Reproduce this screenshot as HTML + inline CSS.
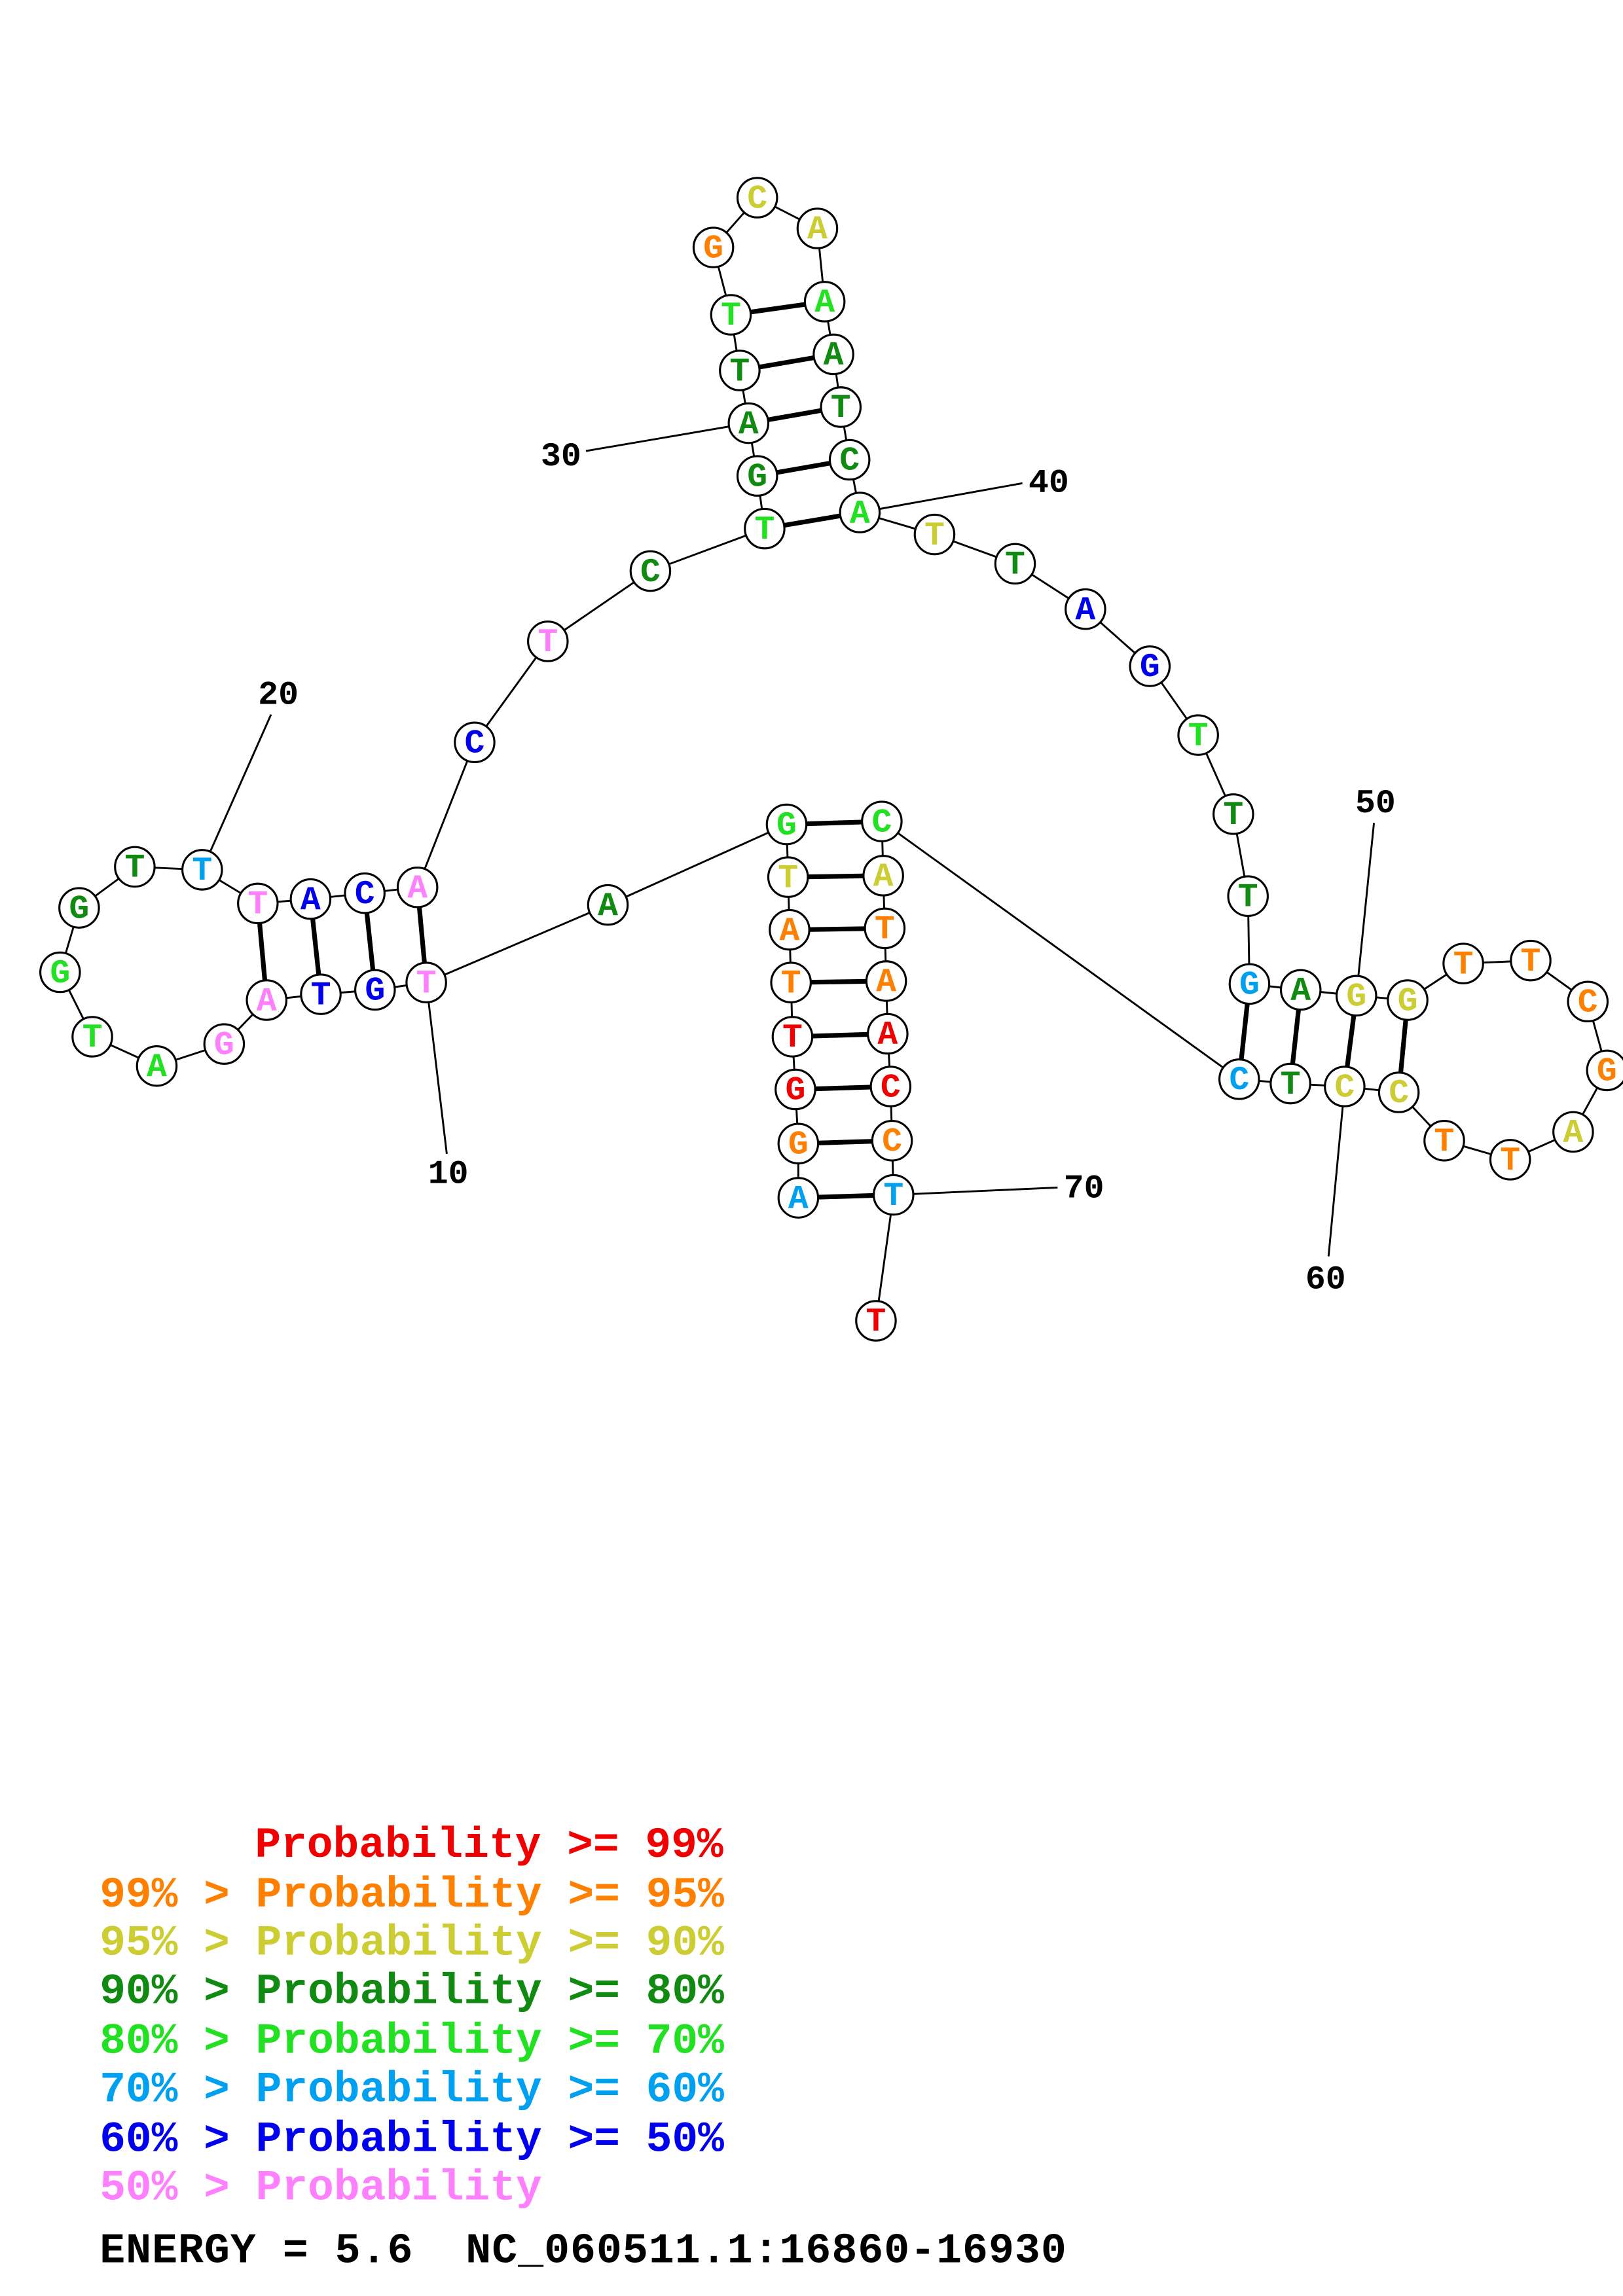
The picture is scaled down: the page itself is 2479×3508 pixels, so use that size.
<!DOCTYPE html>
<html><head><meta charset="utf-8"><style>html,body{margin:0;padding:0;background:#fff}svg{display:block}.pre{white-space:pre}</style></head>
<body>
<svg width="2479" height="3508" viewBox="0 0 1108 1568" xmlns="http://www.w3.org/2000/svg">
<rect width="1108" height="1568" fill="#fff"/>
<g stroke="#000" stroke-width="1.3" fill="none">
<polyline points="545,818 545,781 543,744 541,708 540,671 539,635 538,599 537,563 415,618 291,671 256,676 219,679 182,683 153,713 107,728 63,708 41,664 54,620 92,592 138,594 176,617 212,614 249,610 285,606 324,507 374,438 444,390 522,361 517,325 511,289 505,253 499,215 487,169 517,135 558,156 563,206 569,242 574,278 580,314 587,350 638,365 693,385 741,416 785,455 818,502 842,556 852,612 853,672 888,676 926,680 961,683 999,658 1045,656 1084,684 1097,731 1074,773 1031,792 986,779 955,746 918,742 881,740 846,737 602,561 603,598 604,634 605,670 606,706 608,742 609,779 610,816 598,902"/>
<line x1="400" y1="308" x2="511" y2="289"/>
<line x1="698" y1="330" x2="587" y2="350"/>
<line x1="185" y1="488" x2="138" y2="594"/>
<line x1="305" y1="788" x2="291" y2="671"/>
<line x1="938" y1="562" x2="926" y2="680"/>
<line x1="907" y1="858" x2="918" y2="742"/>
<line x1="722" y1="811" x2="610" y2="816"/>
</g>
<g stroke="#000" stroke-width="3.2">
<line x1="545" y1="818" x2="610" y2="816"/><line x1="545" y1="781" x2="609" y2="779"/><line x1="543" y1="744" x2="608" y2="742"/><line x1="541" y1="708" x2="606" y2="706"/><line x1="540" y1="671" x2="605" y2="670"/><line x1="539" y1="635" x2="604" y2="634"/><line x1="538" y1="599" x2="603" y2="598"/><line x1="537" y1="563" x2="602" y2="561"/>
<line x1="291" y1="671" x2="285" y2="606"/><line x1="256" y1="676" x2="249" y2="610"/><line x1="219" y1="679" x2="212" y2="614"/><line x1="182" y1="683" x2="176" y2="617"/>
<line x1="522" y1="361" x2="587" y2="350"/><line x1="517" y1="325" x2="580" y2="314"/><line x1="511" y1="289" x2="574" y2="278"/><line x1="505" y1="253" x2="569" y2="242"/><line x1="499" y1="215" x2="563" y2="206"/>
<line x1="853" y1="672" x2="846" y2="737"/><line x1="888" y1="676" x2="881" y2="740"/><line x1="926" y1="680" x2="918" y2="742"/><line x1="961" y1="683" x2="955" y2="746"/>
</g>
<g fill="#fff" stroke="#000" stroke-width="1.4">
<circle cx="545" cy="818" r="13.5"/><circle cx="545" cy="781" r="13.5"/><circle cx="543" cy="744" r="13.5"/><circle cx="541" cy="708" r="13.5"/><circle cx="540" cy="671" r="13.5"/><circle cx="539" cy="635" r="13.5"/><circle cx="538" cy="599" r="13.5"/><circle cx="537" cy="563" r="13.5"/><circle cx="415" cy="618" r="13.5"/><circle cx="291" cy="671" r="13.5"/><circle cx="256" cy="676" r="13.5"/><circle cx="219" cy="679" r="13.5"/><circle cx="182" cy="683" r="13.5"/><circle cx="153" cy="713" r="13.5"/><circle cx="107" cy="728" r="13.5"/><circle cx="63" cy="708" r="13.5"/><circle cx="41" cy="664" r="13.5"/><circle cx="54" cy="620" r="13.5"/><circle cx="92" cy="592" r="13.5"/><circle cx="138" cy="594" r="13.5"/><circle cx="176" cy="617" r="13.5"/><circle cx="212" cy="614" r="13.5"/><circle cx="249" cy="610" r="13.5"/><circle cx="285" cy="606" r="13.5"/><circle cx="324" cy="507" r="13.5"/><circle cx="374" cy="438" r="13.5"/><circle cx="444" cy="390" r="13.5"/><circle cx="522" cy="361" r="13.5"/><circle cx="517" cy="325" r="13.5"/><circle cx="511" cy="289" r="13.5"/><circle cx="505" cy="253" r="13.5"/><circle cx="499" cy="215" r="13.5"/><circle cx="487" cy="169" r="13.5"/><circle cx="517" cy="135" r="13.5"/><circle cx="558" cy="156" r="13.5"/><circle cx="563" cy="206" r="13.5"/><circle cx="569" cy="242" r="13.5"/><circle cx="574" cy="278" r="13.5"/><circle cx="580" cy="314" r="13.5"/><circle cx="587" cy="350" r="13.5"/><circle cx="638" cy="365" r="13.5"/><circle cx="693" cy="385" r="13.5"/><circle cx="741" cy="416" r="13.5"/><circle cx="785" cy="455" r="13.5"/><circle cx="818" cy="502" r="13.5"/><circle cx="842" cy="556" r="13.5"/><circle cx="852" cy="612" r="13.5"/><circle cx="853" cy="672" r="13.5"/><circle cx="888" cy="676" r="13.5"/><circle cx="926" cy="680" r="13.5"/><circle cx="961" cy="683" r="13.5"/><circle cx="999" cy="658" r="13.5"/><circle cx="1045" cy="656" r="13.5"/><circle cx="1084" cy="684" r="13.5"/><circle cx="1097" cy="731" r="13.5"/><circle cx="1074" cy="773" r="13.5"/><circle cx="1031" cy="792" r="13.5"/><circle cx="986" cy="779" r="13.5"/><circle cx="955" cy="746" r="13.5"/><circle cx="918" cy="742" r="13.5"/><circle cx="881" cy="740" r="13.5"/><circle cx="846" cy="737" r="13.5"/><circle cx="602" cy="561" r="13.5"/><circle cx="603" cy="598" r="13.5"/><circle cx="604" cy="634" r="13.5"/><circle cx="605" cy="670" r="13.5"/><circle cx="606" cy="706" r="13.5"/><circle cx="608" cy="742" r="13.5"/><circle cx="609" cy="779" r="13.5"/><circle cx="610" cy="816" r="13.5"/><circle cx="598" cy="902" r="13.5"/>
</g>
<g font-family="'Liberation Mono',monospace" font-weight="bold" font-size="23" text-anchor="middle" dominant-baseline="central">
<text x="545" y="819" fill="#00a0f0">A</text><text x="545" y="782" fill="#ff8000">G</text><text x="543" y="745" fill="#f00000">G</text><text x="541" y="709" fill="#f00000">T</text><text x="540" y="672" fill="#ff8000">T</text><text x="539" y="636" fill="#ff8000">A</text><text x="538" y="600" fill="#cccc33">T</text><text x="537" y="564" fill="#22e022">G</text><text x="415" y="619" fill="#108a10">A</text><text x="291" y="672" fill="#ff80ff">T</text><text x="256" y="677" fill="#0000ee">G</text><text x="219" y="680" fill="#0000ee">T</text><text x="182" y="684" fill="#ff80ff">A</text><text x="153" y="714" fill="#ff80ff">G</text><text x="107" y="729" fill="#22e022">A</text><text x="63" y="709" fill="#22e022">T</text><text x="41" y="665" fill="#22e022">G</text><text x="54" y="621" fill="#108a10">G</text><text x="92" y="593" fill="#108a10">T</text><text x="138" y="595" fill="#00a0f0">T</text><text x="176" y="618" fill="#ff80ff">T</text><text x="212" y="615" fill="#0000ee">A</text><text x="249" y="611" fill="#0000ee">C</text><text x="285" y="607" fill="#ff80ff">A</text><text x="324" y="508" fill="#0000ee">C</text><text x="374" y="439" fill="#ff80ff">T</text><text x="444" y="391" fill="#108a10">C</text><text x="522" y="362" fill="#22e022">T</text><text x="517" y="326" fill="#108a10">G</text><text x="511" y="290" fill="#108a10">A</text><text x="505" y="254" fill="#108a10">T</text><text x="499" y="216" fill="#22e022">T</text><text x="487" y="170" fill="#ff8000">G</text><text x="517" y="136" fill="#cccc33">C</text><text x="558" y="157" fill="#cccc33">A</text><text x="563" y="207" fill="#22e022">A</text><text x="569" y="243" fill="#108a10">A</text><text x="574" y="279" fill="#108a10">T</text><text x="580" y="315" fill="#108a10">C</text><text x="587" y="351" fill="#22e022">A</text><text x="638" y="366" fill="#cccc33">T</text><text x="693" y="386" fill="#108a10">T</text><text x="741" y="417" fill="#0000ee">A</text><text x="785" y="456" fill="#0000ee">G</text><text x="818" y="503" fill="#22e022">T</text><text x="842" y="557" fill="#108a10">T</text><text x="852" y="613" fill="#108a10">T</text><text x="853" y="673" fill="#00a0f0">G</text><text x="888" y="677" fill="#108a10">A</text><text x="926" y="681" fill="#cccc33">G</text><text x="961" y="684" fill="#cccc33">G</text><text x="999" y="659" fill="#ff8000">T</text><text x="1045" y="657" fill="#ff8000">T</text><text x="1084" y="685" fill="#ff8000">C</text><text x="1097" y="732" fill="#ff8000">G</text><text x="1074" y="774" fill="#cccc33">A</text><text x="1031" y="793" fill="#ff8000">T</text><text x="986" y="780" fill="#ff8000">T</text><text x="955" y="747" fill="#cccc33">C</text><text x="918" y="743" fill="#cccc33">C</text><text x="881" y="741" fill="#108a10">T</text><text x="846" y="738" fill="#00a0f0">C</text><text x="602" y="562" fill="#22e022">C</text><text x="603" y="599" fill="#cccc33">A</text><text x="604" y="635" fill="#ff8000">T</text><text x="605" y="671" fill="#ff8000">A</text><text x="606" y="707" fill="#f00000">A</text><text x="608" y="743" fill="#f00000">C</text><text x="609" y="780" fill="#ff8000">C</text><text x="610" y="817" fill="#00a0f0">T</text><text x="598" y="903" fill="#f00000">T</text>
</g>
<g font-family="'Liberation Mono',monospace" font-weight="bold" font-size="23" fill="#000" text-anchor="middle" dominant-baseline="central">
<text x="383" y="312">30</text><text x="716" y="330">40</text><text x="190" y="475">20</text><text x="306" y="802">10</text><text x="939" y="549">50</text><text x="905" y="874">60</text><text x="740" y="812">70</text>
</g>
<g font-family="'Liberation Mono',monospace" font-weight="bold" font-size="29.6" class="pre">
<text class="pre" x="174" y="1268" fill="#f00000">Probability &gt;= 99%</text>
<text class="pre" x="68" y="1302" fill="#ff8000">99% &gt; Probability &gt;= 95%</text>
<text class="pre" x="68" y="1335" fill="#cccc33">95% &gt; Probability &gt;= 90%</text>
<text class="pre" x="68" y="1368" fill="#108a10">90% &gt; Probability &gt;= 80%</text>
<text class="pre" x="68" y="1402" fill="#22e022">80% &gt; Probability &gt;= 70%</text>
<text class="pre" x="68" y="1435" fill="#00a0f0">70% &gt; Probability &gt;= 60%</text>
<text class="pre" x="68" y="1469" fill="#0000ee">60% &gt; Probability &gt;= 50%</text>
<text class="pre" x="68" y="1502" fill="#ff80ff">50% &gt; Probability</text>
<text class="pre" x="68" y="1545" fill="#000" font-size="29" textLength="660" lengthAdjust="spacing">ENERGY = 5.6  NC_060511.1:16860-16930</text>
</g>
</svg>
</body></html>
